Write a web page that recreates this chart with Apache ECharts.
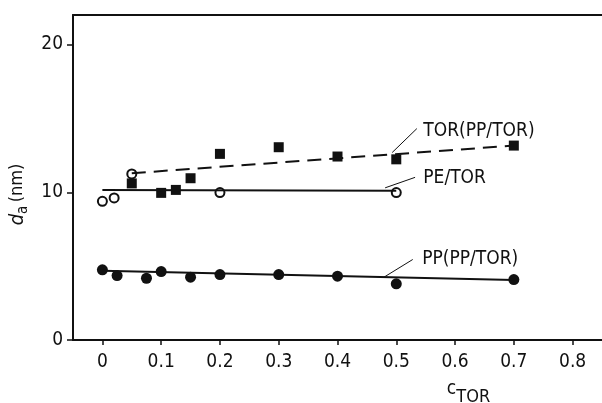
<!DOCTYPE html>
<html>
<head>
<meta charset="utf-8">
<script src="https://cdn.jsdelivr.net/npm/echarts@6/dist/echarts.min.js"></script>
<style>
  html, body { margin: 0; padding: 0; background: #fff; }
  #main { width: 602px; height: 403px; }
</style>
</head>
<body>
<div id="main"></div>
<script>
// measured points, c_TOR vs d_a (nm)
const ppX = [0, 0.025, 0.075, 0.1, 0.15, 0.2, 0.3, 0.4, 0.5, 0.7];
const ppY = [4.75, 4.36, 4.18, 4.63, 4.25, 4.43, 4.43, 4.32, 3.8, 4.09];
const torX = [0.05, 0.1, 0.125, 0.15, 0.2, 0.3, 0.4, 0.5, 0.7];
const torY = [10.6, 9.96, 10.16, 10.95, 12.6, 13.05, 12.42, 12.23, 13.16];
const peX = [0, 0.02, 0.05, 0.2, 0.5];
const peY = [9.39, 9.62, 11.24, 9.98, 9.98];

// fitted lines (end points)
const ppFit = [[0, 4.68], [0.7, 4.06]];
const torFit = [[0.05, 11.29], [0.7, 13.16]];
const peFit = [[0, 10.15], [0.5, 10.1]];

// curve labels: text, text anchor, leader start, leader end
const curveLabels = ['TOR(PP/TOR)', 'PE/TOR', 'PP(PP/TOR)'];
const labelAt = [[0.546, 14.17], [0.546, 10.93], [0.544, 5.51]];
const leaderFrom = [[0.535, 14.31], [0.532, 11.01], [0.528, 5.45]];
const leaderTo = [[0.493, 12.69], [0.481, 10.3], [0.479, 4.25]];

const xTicks = [0, 0.1, 0.2, 0.3, 0.4, 0.5, 0.6, 0.7, 0.8];
const yTicks = [0, 10, 20];

const FONT = "'Liberation Sans Narrow', 'DejaVu Sans Condensed', sans-serif";
const INK = '#111';

const zip = (xs, ys) => xs.map((x, i) => [x, ys[i]]);

const chart = echarts.init(document.getElementById('main'));

const series = [
  {
    type: 'line', data: peFit, symbol: 'none', silent: true,
    lineStyle: {color: INK, width: 2}
  },
  {
    type: 'line', data: ppFit, symbol: 'none', silent: true,
    lineStyle: {color: INK, width: 2}
  },
  {
    type: 'line', data: torFit, symbol: 'none', silent: true,
    lineStyle: {color: INK, width: 2, type: [14, 8]}
  },
  {
    type: 'scatter', data: zip(ppX, ppY), symbol: 'circle', symbolSize: 11,
    itemStyle: {color: INK, opacity: 1}
  },
  {
    type: 'scatter', data: zip(torX, torY), symbol: 'rect', symbolSize: 10,
    itemStyle: {color: INK, opacity: 1}
  },
  {
    type: 'scatter', data: zip(peX, peY), symbol: 'circle', symbolSize: 9,
    itemStyle: {color: '#fff', borderColor: INK, borderWidth: 2, opacity: 1}
  }
];

curveLabels.forEach((txt, i) => {
  series.push({
    type: 'line', data: [leaderFrom[i], leaderTo[i]], symbol: 'none', silent: true,
    lineStyle: {color: INK, width: 1}
  });
  series.push({
    type: 'scatter', data: [labelAt[i]], symbolSize: 0, silent: true,
    itemStyle: {opacity: 1},
    label: {
      show: true, position: 'right', distance: 0, formatter: txt,
      color: INK, fontSize: 19, fontFamily: FONT
    }
  });
});

const option = {
  animation: false,
  backgroundColor: '#fff',
  grid: {left: 73, right: 0, top: 15, bottom: 63, outerBoundsMode: 'none', containLabel: false},
  xAxis: [
    {
      type: 'value', min: -0.05, max: 0.85,
      splitLine: {show: false},
      axisLine: {onZero: false, lineStyle: {color: INK, width: 2}},
      axisTick: {show: true, customValues: xTicks, length: 5, lineStyle: {color: INK, width: 1.5}},
      axisLabel: {customValues: xTicks, margin: 13, color: INK, fontSize: 19, fontFamily: FONT},
      name: '{c|c}{s|TOR}',
      nameLocation: 'middle',
      nameGap: 40,
      nameTextStyle: {
        padding: [0, 0, 0, 262],
        rich: {
          c: {fontSize: 19, fontFamily: FONT, color: INK, verticalAlign: 'top', lineHeight: 26},
          s: {fontSize: 18, fontFamily: FONT, color: INK, verticalAlign: 'bottom', lineHeight: 26, padding: [10, 0, 0, 0]}
        }
      }
    },
    {
      type: 'value', position: 'top', min: -0.05, max: 0.85,
      splitLine: {show: false},
      axisLine: {show: true, onZero: false, lineStyle: {color: INK, width: 2}},
      axisTick: {show: false}, axisLabel: {show: false}
    }
  ],
  yAxis: {
    type: 'value', min: 0, max: 22,
    splitLine: {show: false},
    axisLine: {onZero: false, lineStyle: {color: INK, width: 2}},
    axisTick: {show: true, customValues: yTicks, length: 6, lineStyle: {color: INK, width: 1.5}},
    axisLabel: {customValues: yTicks, margin: 10, color: INK, fontSize: 19, fontFamily: FONT},
    name: '{d|d}{a|a} {n|(nm)}',
    nameLocation: 'middle',
    nameRotate: 90,
    nameGap: 42,
    nameTextStyle: {
      padding: [0, 34, 0, 0],
      rich: {
        d: {fontSize: 20, fontStyle: 'italic', fontFamily: FONT, color: INK, lineHeight: 26, verticalAlign: 'middle'},
        a: {fontSize: 15, fontFamily: FONT, color: INK, lineHeight: 26, verticalAlign: 'bottom'},
        n: {fontSize: 18, fontFamily: FONT, color: INK, lineHeight: 26, verticalAlign: 'middle'}
      }
    }
  },
  series: series
};

chart.setOption(option);
</script>
</body>
</html>
